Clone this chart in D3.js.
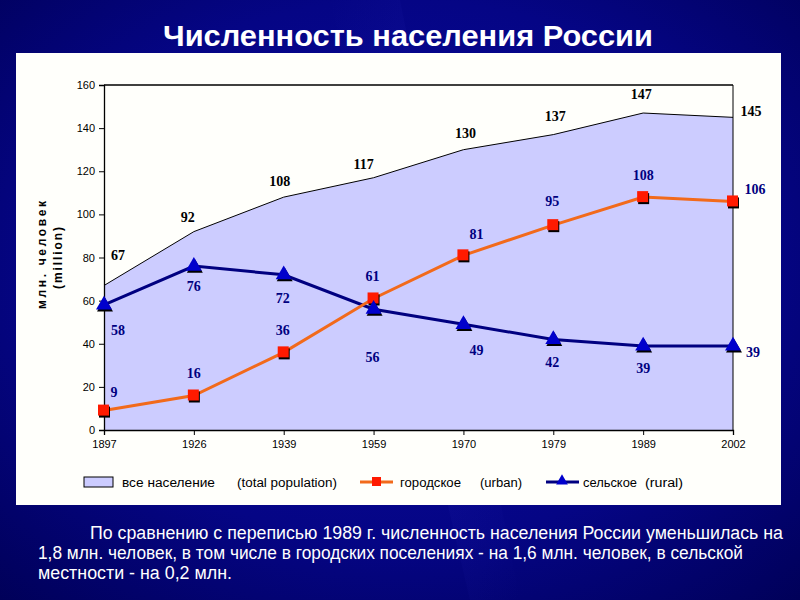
<!DOCTYPE html>
<html><head><meta charset="utf-8">
<script src="https://cdn.jsdelivr.net/npm/d3@7"></script>
<style>html,body{margin:0;padding:0;background:#00006e;}svg{display:block;}</style>
</head><body>
<script>
const years = ["1897","1926","1939","1959","1970","1979","1989","2002"];
const total = [67, 92, 108, 117, 130, 137, 147, 145];
const urban = [9, 16, 36, 61, 81, 95, 108, 106];
const rural = [58, 76, 72, 56, 49, 42, 39, 39];
const yTicks = [0, 20, 40, 60, 80, 100, 120, 140, 160];
const titleText = "Численность населения России";
const yLabel1 = "млн. человек";
const yLabel2 = "(million)";
const legendLabels = [["все население", "(total population)"], ["городское", "(urban)"], ["сельское", "(rural)"]];
const noteLines = [
  "По сравнению с переписью 1989 г. численность населения России уменьшилась на",
  "1,8 млн. человек, в том числе в городских поселениях - на 1,6 млн. человек, в сельской",
  "местности - на 0,2 млн."
];

const W = 800, H = 600;
const svg = d3.select("body").append("svg").attr("width", W).attr("height", H);
const defs = svg.append("defs");
const rg = defs.append("radialGradient").attr("id","bg").attr("cx","50%").attr("cy","45%").attr("r","75%");
rg.append("stop").attr("offset","0%").attr("stop-color","#0a0aa0");
rg.append("stop").attr("offset","60%").attr("stop-color","#050585");
rg.append("stop").attr("offset","100%").attr("stop-color","#000058");
svg.append("rect").attr("width",W).attr("height",H).attr("fill","url(#bg)");
const lg = defs.append("linearGradient").attr("id","streak").attr("x1","0").attr("y1","0").attr("x2","1").attr("y2","1");
lg.append("stop").attr("offset","0%").attr("stop-color","#3030c0").attr("stop-opacity",0);
lg.append("stop").attr("offset","50%").attr("stop-color","#3030c0").attr("stop-opacity",0.35);
lg.append("stop").attr("offset","100%").attr("stop-color","#3030c0").attr("stop-opacity",0);
svg.append("path").attr("d","M330,0 L400,0 L520,600 L470,600 Z").attr("fill","url(#streak)").attr("opacity",0.5);

svg.append("text").attr("x",408).attr("y",46).attr("text-anchor","middle")
  .attr("font-family","Liberation Sans, Arial, sans-serif").attr("font-weight","bold")
  .attr("font-size",29).attr("fill","#ffffff")
  .attr("textLength",490).attr("lengthAdjust","spacingAndGlyphs").text(titleText);

svg.append("rect").attr("x",16).attr("y",53).attr("width",765).attr("height",452).attr("fill","#fffffb");

const x = d3.scalePoint().domain(years).range([104, 733]);
const y = d3.scaleLinear().domain([0,160]).range([430, 85]);

const g = svg.append("g");
const area = d3.area().x((d,i)=>x(years[i])).y0(y(0)).y1(d=>y(d));
g.append("path").datum(total).attr("d",area).attr("fill","#ccccff");
g.append("path").datum(total).attr("d",d3.line().x((d,i)=>x(years[i])).y(d=>y(d)))
  .attr("fill","none").attr("stroke","#000").attr("stroke-width",1);

g.append("line").attr("x1",104).attr("x2",733).attr("y1",85).attr("y2",85).attr("stroke","#000").attr("stroke-width",1.5);
g.append("line").attr("x1",733).attr("x2",733).attr("y1",85).attr("y2",430).attr("stroke","#000").attr("stroke-width",1);

const yAxis = g.append("g").attr("transform","translate(104,0)")
  .call(d3.axisLeft(y).tickValues(yTicks).tickSize(5).tickPadding(4));
const xAxis = g.append("g").attr("transform","translate(0,430)")
  .call(d3.axisBottom(x).tickSize(5).tickPadding(5));
[yAxis,xAxis].forEach(a=>{
  a.select(".domain").attr("stroke","#000").attr("stroke-width",1.3);
  a.selectAll(".tick line").attr("stroke","#000");
  a.selectAll("text").attr("font-family","Liberation Sans, Arial, sans-serif")
    .attr("font-size",11).attr("fill","#000");
});

const yl = svg.append("g").attr("font-family","Liberation Sans, Arial, sans-serif").attr("font-weight","bold")
  .attr("font-size",12).attr("fill","#000");
yl.append("text").attr("transform","translate(46,255) rotate(-90)").attr("text-anchor","middle")
  .attr("textLength",108).attr("lengthAdjust","spacing").text(yLabel1);
yl.append("text").attr("transform","translate(62,258) rotate(-90)").attr("text-anchor","middle")
  .attr("textLength",62).attr("lengthAdjust","spacing").text(yLabel2);

const lineGen = d3.line().x((d,i)=>x(years[i])).y(d=>y(d));
g.append("path").datum(rural).attr("d",lineGen).attr("fill","none").attr("stroke","#000080").attr("stroke-width",3);
g.append("path").datum(urban).attr("d",lineGen).attr("fill","none").attr("stroke","#f26a1b").attr("stroke-width",3);

urban.forEach((v,i)=>{
  const cx = x(years[i]), cy = y(v);
  g.append("rect").attr("x",cx-5).attr("y",cy-4).attr("width",11).attr("height",11).attr("fill","#000");
  g.append("rect").attr("x",cx-6).attr("y",cy-6).attr("width",11).attr("height",11).attr("fill","#ff1a00");
});
const tri = d3.symbol().type(d3.symbolTriangle).size(110);
rural.forEach((v,i)=>{
  const cx = x(years[i]), cy = y(v);
  g.append("path").attr("d",tri()).attr("transform",`translate(${cx+1},${cy+2})`).attr("fill","#000");
  g.append("path").attr("d",tri()).attr("transform",`translate(${cx},${cy})`).attr("fill","#0000cc");
});

const serif = "Liberation Serif, Times New Roman, serif";
const totalOff = [[14,-26],[-6,-10],[-4,-11],[-10,-9],[2,-12],[2,-14],[-2,-14],[18,-1]];
const urbanOff = [[10,-14],[0,-18],[-1,-17],[-1,-17],[13,-16],[-1,-19],[0,-17],[22,-7]];
const ruralOff = [[14,30],[0,25],[-1,28],[-1,53],[13,31],[-1,28],[0,27],[20,11]];
function lab(v,i,off,col){
  g.append("text").attr("x",x(years[i])+off[i][0]).attr("y",y(v)+off[i][1]).attr("text-anchor","middle")
   .attr("font-family",serif).attr("font-weight","bold").attr("font-size",14).attr("fill",col).text(v);
}
total.forEach((v,i)=>lab(v,i,totalOff,"#000"));
urban.forEach((v,i)=>lab(v,i,urbanOff,"#000080"));
rural.forEach((v,i)=>lab(v,i,ruralOff,"#000080"));

const lf = "Liberation Sans, Arial, sans-serif";
const leg = svg.append("g").attr("font-family",lf).attr("font-size",12).attr("fill","#000");
function lt(xp, w, t){ leg.append("text").attr("x",xp).attr("y",487).attr("textLength",w).attr("lengthAdjust","spacingAndGlyphs").text(t); }
leg.append("rect").attr("x",84).attr("y",477).attr("width",29).attr("height",10).attr("fill","#ccccff").attr("stroke","#000");
lt(122, 93, legendLabels[0][0]);
lt(237, 100, legendLabels[0][1]);
leg.append("line").attr("x1",360).attr("x2",393).attr("y1",482).attr("y2",482).attr("stroke","#f26a1b").attr("stroke-width",3);
leg.append("rect").attr("x",372).attr("y",477).attr("width",9).attr("height",9).attr("fill","#ff1a00");
lt(400, 61, legendLabels[1][0]);
lt(480, 42, legendLabels[1][1]);
leg.append("line").attr("x1",546).attr("x2",579).attr("y1",482).attr("y2",482).attr("stroke","#000080").attr("stroke-width",3);
leg.append("path").attr("d",d3.symbol().type(d3.symbolTriangle).size(60)()).attr("transform","translate(562,481)").attr("fill","#0000cc");
lt(583, 54, legendLabels[2][0]);
lt(645, 38, legendLabels[2][1]);

const note = svg.append("g").attr("font-family",lf).attr("font-size",18).attr("fill","#fff");
const starts = [[90,539,693],[38,559,705],[38,579,194]];
noteLines.forEach((t,i)=>{
  note.append("text").attr("x",starts[i][0]).attr("y",starts[i][1])
    .attr("textLength",starts[i][2]).attr("lengthAdjust","spacingAndGlyphs").text(t);
});
</script>
</body></html>
